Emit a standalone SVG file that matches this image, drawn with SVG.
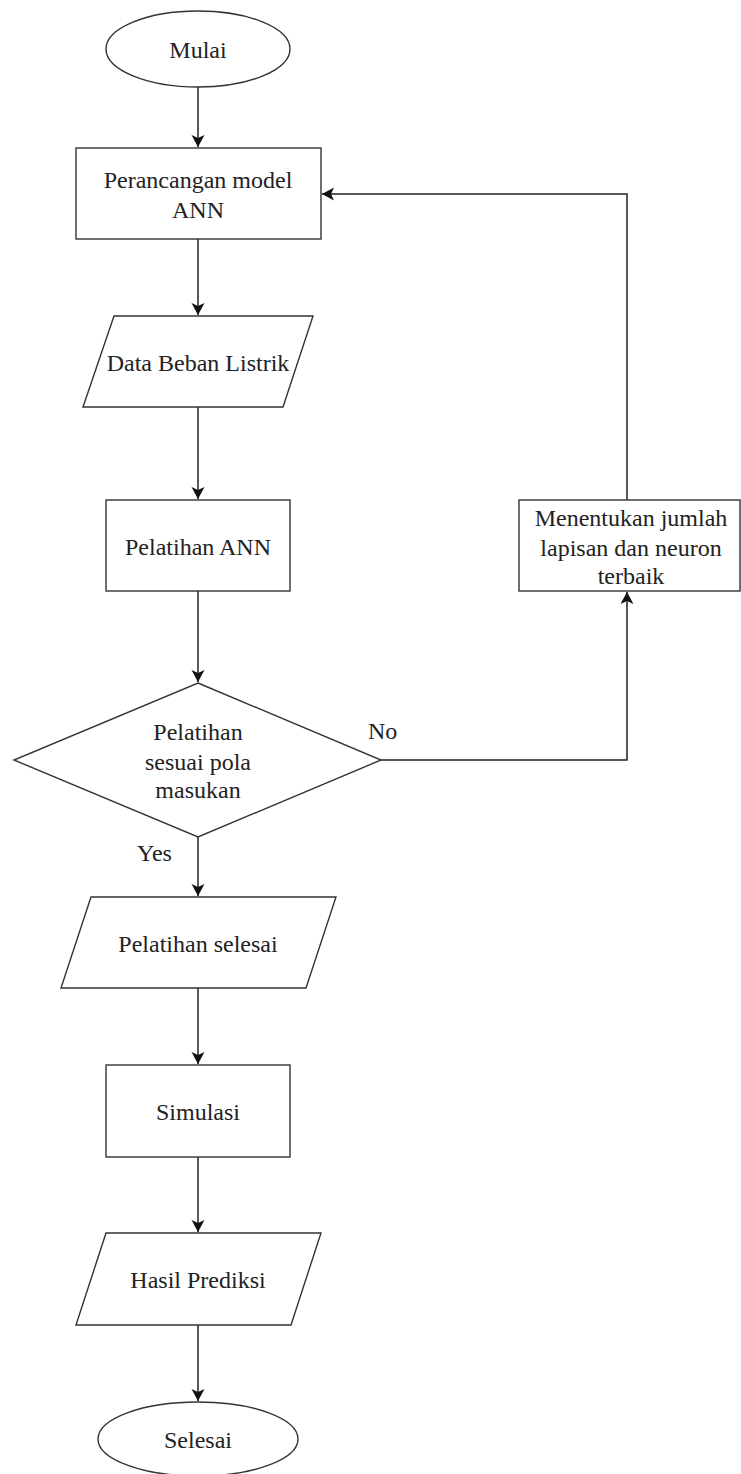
<svg xmlns="http://www.w3.org/2000/svg" width="741" height="1474" viewBox="0 0 741 1474" font-family="'Liberation Serif', 'DejaVu Serif', serif">
<defs>
<style>
.shape{fill:#ffffff;stroke:#333333;stroke-width:1.4}
.edge{fill:none;stroke:#222222;stroke-width:1.5}
.t{font-family:'Liberation Serif','DejaVu Serif',serif;font-size:24px;fill:#222222}
.c{text-anchor:middle}
</style>
<marker id="arr" markerUnits="userSpaceOnUse" markerWidth="14" markerHeight="14" refX="12" refY="6.5" orient="auto">
<path d="M0,0 L12,6.5 L0,13 L3,6.5 z" fill="#111111"/>
</marker>
</defs>
<rect width="741" height="1474" fill="#ffffff"/>
<g id="connectors">
<line class="edge" x1="198" y1="87" x2="198" y2="147" marker-end="url(#arr)"/>
<line class="edge" x1="198" y1="239" x2="198" y2="315" marker-end="url(#arr)"/>
<line class="edge" x1="198" y1="407" x2="198" y2="499" marker-end="url(#arr)"/>
<line class="edge" x1="198" y1="591" x2="198" y2="682" marker-end="url(#arr)"/>
<line class="edge" x1="198" y1="837" x2="198" y2="896" marker-end="url(#arr)"/>
<line class="edge" x1="198" y1="988" x2="198" y2="1064" marker-end="url(#arr)"/>
<line class="edge" x1="198" y1="1157" x2="198" y2="1232" marker-end="url(#arr)"/>
<line class="edge" x1="198" y1="1325" x2="198" y2="1401" marker-end="url(#arr)"/>
<polyline class="edge" points="381,760 627,760 627,592" marker-end="url(#arr)"/>
<polyline class="edge" points="627,500 627,194 322,194" marker-end="url(#arr)"/>
<text class="t" x="368" y="739">No</text>
<text class="t" x="137" y="861">Yes</text>
</g>
<g id="mulai">
<ellipse class="shape" cx="198" cy="49" rx="92" ry="38"/>
<text class="t c" x="198" y="58">Mulai</text>
</g>
<g id="perancangan">
<rect class="shape" x="76" y="148" width="245" height="91"/>
<text class="t c" x="198" y="188">Perancangan model</text>
<text class="t c" x="198" y="218">ANN</text>
</g>
<g id="data-beban">
<polygon class="shape" points="114,316 313,316 283,407 83,407"/>
<text class="t c" x="198" y="371">Data Beban Listrik</text>
</g>
<g id="pelatihan-ann">
<rect class="shape" x="106" y="500" width="184" height="91"/>
<text class="t c" x="198" y="555">Pelatihan ANN</text>
</g>
<g id="keputusan">
<polygon class="shape" points="198,683 381,760 198,837 14,760"/>
<text class="t c" x="198" y="740">Pelatihan</text>
<text class="t c" x="198" y="770">sesuai pola</text>
<text class="t c" x="198" y="798">masukan</text>
</g>
<g id="menentukan">
<rect class="shape" x="519" y="500" width="221" height="91"/>
<text class="t c" x="631" y="526">Menentukan jumlah</text>
<text class="t c" x="631" y="556">lapisan dan neuron</text>
<text class="t c" x="631" y="584">terbaik</text>
</g>
<g id="pelatihan-selesai">
<polygon class="shape" points="91,897 336,897 306,988 61,988"/>
<text class="t c" x="198" y="952">Pelatihan selesai</text>
</g>
<g id="simulasi">
<rect class="shape" x="106" y="1065" width="184" height="92"/>
<text class="t c" x="198" y="1120">Simulasi</text>
</g>
<g id="hasil-prediksi">
<polygon class="shape" points="106,1233 321,1233 291,1325 76,1325"/>
<text class="t c" x="198" y="1288">Hasil Prediksi</text>
</g>
<g id="selesai">
<ellipse class="shape" cx="198" cy="1439" rx="100" ry="37"/>
<text class="t c" x="198" y="1448">Selesai</text>
</g>
</svg>
